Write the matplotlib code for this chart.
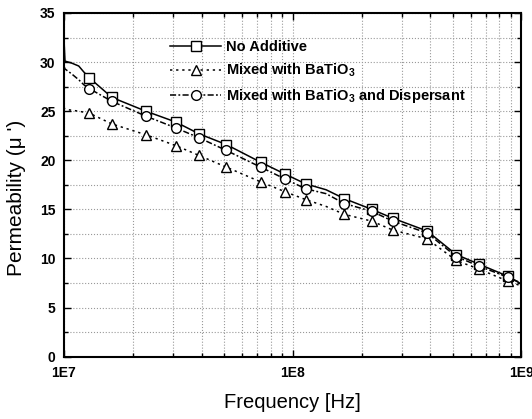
import matplotlib
matplotlib.use("Agg")
import matplotlib.pyplot as plt
from matplotlib.ticker import LogLocator, MultipleLocator, FixedFormatter, FixedLocator

# Datos
freq = [1.0e7, 1.01e7, 1.08e7, 1.16e7, 1.22e7, 1.29e7, 1.62e7, 2.28e7, 3.08e7, 3.89e7,
        5.13e7, 7.25e7, 9.25e7, 1.14e8, 1.40e8, 1.68e8, 2.22e8, 2.74e8, 3.87e8,
        5.19e8, 6.56e8, 8.71e8, 1.0e9]
no_additive = [32.3, 30.1, 29.9, 29.6, 29.0, 28.4, 26.4, 25.0, 23.9, 22.7,
               21.6, 19.8, 18.6, 17.6, 17.0, 16.1, 15.0, 14.1, 12.8,
               10.4, 9.4, 8.2, 7.4]
batio3 = [25.4, 25.2, 25.1, 25.0, 24.9, 24.8, 23.7, 22.6, 21.5, 20.5,
          19.3, 17.8, 16.8, 16.0, 15.3, 14.5, 13.8, 12.9, 12.0,
          9.8, 8.9, 7.7, 7.2]
batio3_disp = [29.6, 29.3, 28.8, 28.2, 27.7, 27.3, 26.0, 24.5, 23.3, 22.3,
               21.0, 19.3, 18.1, 17.1, 16.6, 15.6, 14.8, 13.8, 12.6,
               10.2, 9.2, 8.1, 7.5]
marker_idx = [5, 6, 7, 8, 9, 10, 11, 12, 13, 15, 16, 17, 18, 19, 20, 21]

plt.rcParams['font.family'] = ['Liberation Sans', 'DejaVu Sans']
plt.rcParams['mathtext.fontset'] = 'custom'
plt.rcParams['mathtext.rm'] = 'Liberation Sans'
plt.rcParams['mathtext.bf'] = 'Liberation Sans:bold'

fig = plt.figure(figsize=(5.32, 4.19), dpi=100)
ax = fig.add_axes([0.1203, 0.1487, 0.8597, 0.8203])

common = dict(color='black', markerfacecolor='white', markeredgecolor='black',
              markersize=7, markeredgewidth=1.0, markevery=marker_idx, lw=1.1)
ax.plot(freq, no_additive, linestyle='-', marker='s', label='No Additive', **common)
ax.plot(freq, batio3, linestyle=(0, (1.5, 2.5)), marker='^',
        label=r'Mixed with BaTiO$_{\mathbf{3}}$', **common)
ax.plot(freq, batio3_disp, linestyle=(0, (4, 1.5, 1.2, 1.5)), marker='o',
        label=r'Mixed with BaTiO$_{\mathbf{3}}$ and Dispersant', **common)

ax.set_xscale('log')
ax.set_xlim(1e7, 1e9)
ax.set_ylim(0, 35)
ax.xaxis.set_major_locator(FixedLocator([1e7, 1e8, 1e9]))
ax.xaxis.set_major_formatter(FixedFormatter(['1E7', '1E8', '1E9']))
ax.xaxis.set_minor_locator(LogLocator(base=10, subs=range(2, 10)))
ax.yaxis.set_major_locator(MultipleLocator(5))
ax.yaxis.set_minor_locator(MultipleLocator(2.5))

ax.tick_params(which='both', direction='in', top=True, right=True, width=1.0)
ax.tick_params(which='major', length=5, labelsize=10)
ax.tick_params(which='minor', length=3)
ax.tick_params(axis='x', which='major', pad=7)
ax.tick_params(axis='y', which='major', pad=6)
for lab in ax.get_xticklabels() + ax.get_yticklabels():
    lab.set_fontweight('bold')
ax.tick_params(axis='x', which='minor', labelbottom=False)

ax.grid(True, which='both', color='#999999', linestyle=':', linewidth=0.8)
for sp in ax.spines.values():
    sp.set_linewidth(1.5)

ax.set_xlabel('Frequency [Hz]', fontsize=14.5, labelpad=9)
ax.set_ylabel("Permeability (\u03bc ')", fontsize=15)
ax.yaxis.set_label_coords(-0.083, 0.462)

ax.legend(loc='upper left', bbox_to_anchor=(0.232, 0.92), frameon=False,
          handlelength=3.5, handletextpad=0.35, borderpad=0, borderaxespad=0,
          labelspacing=0.5, prop={'weight': 'bold', 'size': 10.5})

fig.savefig('out.png', dpi=100)
